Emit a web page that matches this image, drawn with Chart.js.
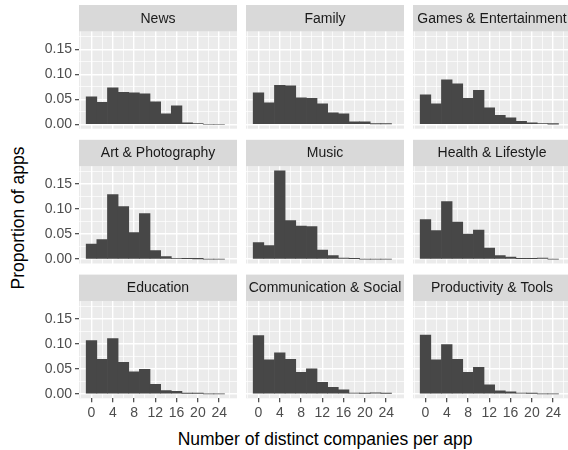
<!DOCTYPE html>
<html>
<head>
<meta charset="utf-8">
<script src="https://cdn.jsdelivr.net/npm/chart.js@4"></script>
<style>
  html, body { margin: 0; padding: 0; background: #fff; overflow: hidden; }
  #wrap { position: relative; width: 568px; height: 450px; overflow: hidden; }
  #wrap canvas { position: absolute; left: 0; top: 0; }
  .axis-title {
    position: absolute;
    font-family: "Liberation Sans", Arial, sans-serif;
    font-size: 17.5px;
    color: #000;
    white-space: nowrap;
  }
  #xTitle { left: 325px; top: 439px; transform: translate(-50%, -50%); }
  #yTitle { left: 18px; top: 218px; transform: translate(-50%, -50%) rotate(-90deg); }
</style>
</head>
<body>
<div id="wrap">
  <div class="axis-title" id="xTitle">Number of distinct companies per app</div>
  <div class="axis-title" id="yTitle">Proportion of apps</div>
</div>
<script>
// histogram bins (width 2, centred on even counts)
const binCenters = [0, 2, 4, 6, 8, 10, 12, 14, 16, 18, 20, 22, 24];

const categories = [
  'News', 'Family', 'Games & Entertainment',
  'Art & Photography', 'Music', 'Health & Lifestyle',
  'Education', 'Communication & Social', 'Productivity & Tools'
];

// proportion of apps per bin, one array per category
const news          = [0.055, 0.044, 0.073, 0.064, 0.063, 0.061, 0.045, 0.021, 0.037, 0.003, 0.001, 0, 0];
const family        = [0.063, 0.043, 0.078, 0.077, 0.053, 0.052, 0.041, 0.023, 0.021, 0.005, 0.005, 0.0007, 0.0007];
const games         = [0.059, 0.041, 0.089, 0.081, 0.052, 0.068, 0.033, 0.018, 0.013, 0.006, 0.003, 0.0013, 0.0003];
const art           = [0.030, 0.039, 0.129, 0.105, 0.053, 0.091, 0.017, 0.005, 0.0013, 0.0007, 0.0005, 0, 0];
const music         = [0.033, 0.027, 0.177, 0.077, 0.066, 0.065, 0.018, 0.007, 0.002, 0.0007, 0, 0, 0];
const health        = [0.079, 0.057, 0.115, 0.074, 0.050, 0.058, 0.022, 0.007, 0.004, 0.0007, 0.0007, 0.002, 0];
const education     = [0.107, 0.069, 0.111, 0.063, 0.044, 0.049, 0.019, 0.0067, 0.0053, 0.0007, 0.0007, 0, 0];
const communication = [0.117, 0.068, 0.082, 0.069, 0.043, 0.050, 0.023, 0.013, 0.008, 0.0013, 0.0007, 0.002, 0.0007];
const productivity  = [0.118, 0.068, 0.099, 0.069, 0.043, 0.053, 0.018, 0.006, 0.004, 0.0013, 0.0007, 0, 0];

const series = [news, family, games, art, music, health, education, communication, productivity];

// shared axis ranges (ggplot-style 5% expansion)
const xMin = -2.35, xMax = 27.35;
const yTop = Math.max(...series.flat());
const yMin = -0.05 * yTop, yMax = 1.05 * yTop;

// panel geometry
const W = 580, H = 450;
const colLeft = [79, 246, 413];
const colRight = [237, 404, 571];
const rowTop = [31.5, 166.3, 301.1];
const rowBottom = [128.7, 263.5, 398.3];
const stripH = 26.5;
const xAxisH = 20;

const FONT = '"Liberation Sans", Arial, Helvetica, sans-serif';
const barFill = '#474747';

// grey panel background + facet strip with its label
const panelPlugin = {
  id: 'panel',
  beforeDraw(chart, args, opts) {
    const { ctx, chartArea: a } = chart;
    ctx.save();
    ctx.fillStyle = '#EBEBEB';
    ctx.fillRect(a.left, a.top, a.right - a.left, a.bottom - a.top);
    ctx.fillStyle = '#D9D9D9';
    ctx.fillRect(a.left, a.top - stripH, a.right - a.left, stripH);
    ctx.fillStyle = '#1A1A1A';
    ctx.font = '14px ' + FONT;
    ctx.textAlign = 'center';
    ctx.textBaseline = 'middle';
    ctx.fillText(opts.title, (a.left + a.right) / 2, a.top - stripH / 2 + 0.5);
    ctx.restore();
  }
};

const isMajorX = v => Math.abs(v % 4) < 1e-6;
const isMajorY = v => Math.round(v * 1000) % 50 === 0;

const wrap = document.getElementById('wrap');

categories.forEach((name, i) => {
  const row = Math.floor(i / 3);
  const col = i % 3;
  const showY = col === 0;
  const showX = row === 2;

  const canvas = document.createElement('canvas');
  canvas.width = W;
  canvas.height = H;
  wrap.appendChild(canvas);

  new Chart(canvas, {
    type: 'bar',
    data: {
      datasets: [{
        data: binCenters.map((c, k) => ({ x: c, y: series[i][k] })),
        backgroundColor: barFill,
        borderWidth: 0,
        barPercentage: 1,
        categoryPercentage: 1
      }]
    },
    options: {
      responsive: false,
      animation: false,
      events: [],
      layout: {
        padding: {
          left: showY ? 0 : colLeft[col],
          right: W - colRight[col],
          top: rowTop[row],
          bottom: H - rowBottom[row] - (showX ? xAxisH : 0)
        }
      },
      plugins: {
        legend: { display: false },
        tooltip: { enabled: false },
        panel: { title: name }
      },
      scales: {
        x: {
          type: 'linear',
          min: xMin,
          max: xMax,
          offset: false,
          border: { display: false },
          grid: {
            offset: false,
            color: '#FFFFFF',
            lineWidth: c => isMajorX(c.tick.value) ? 1.4 : 0.7,
            drawTicks: showX,
            tickLength: 4,
            tickWidth: 1.1,
            tickColor: c => isMajorX(c.tick.value) ? '#333333' : 'rgba(0,0,0,0)'
          },
          ticks: {
            display: showX,
            stepSize: 2,
            maxTicksLimit: 100,
            includeBounds: false,
            autoSkip: false,
            maxRotation: 0,
            padding: 2,
            color: '#4D4D4D',
            font: { family: FONT, size: 14 },
            callback: v => isMajorX(v) ? String(v) : ''
          },
          afterFit: s => { s.height = showX ? xAxisH : 0; }
        },
        y: {
          min: yMin,
          max: yMax,
          border: { display: false },
          grid: {
            color: '#FFFFFF',
            lineWidth: c => isMajorY(c.tick.value) ? 1.4 : 0.7,
            drawTicks: showY,
            tickLength: 4,
            tickWidth: 1.1,
            tickColor: c => isMajorY(c.tick.value) ? '#333333' : 'rgba(0,0,0,0)'
          },
          ticks: {
            display: showY,
            stepSize: 0.025,
            maxTicksLimit: 100,
            includeBounds: false,
            autoSkip: false,
            padding: 3,
            color: '#4D4D4D',
            font: { family: FONT, size: 14 },
            callback: v => isMajorY(v) ? v.toFixed(2) : ''
          },
          afterFit: s => { s.width = showY ? colLeft[0] : 0; }
        }
      }
    },
    plugins: [panelPlugin]
  });
});
</script>
</body>
</html>
